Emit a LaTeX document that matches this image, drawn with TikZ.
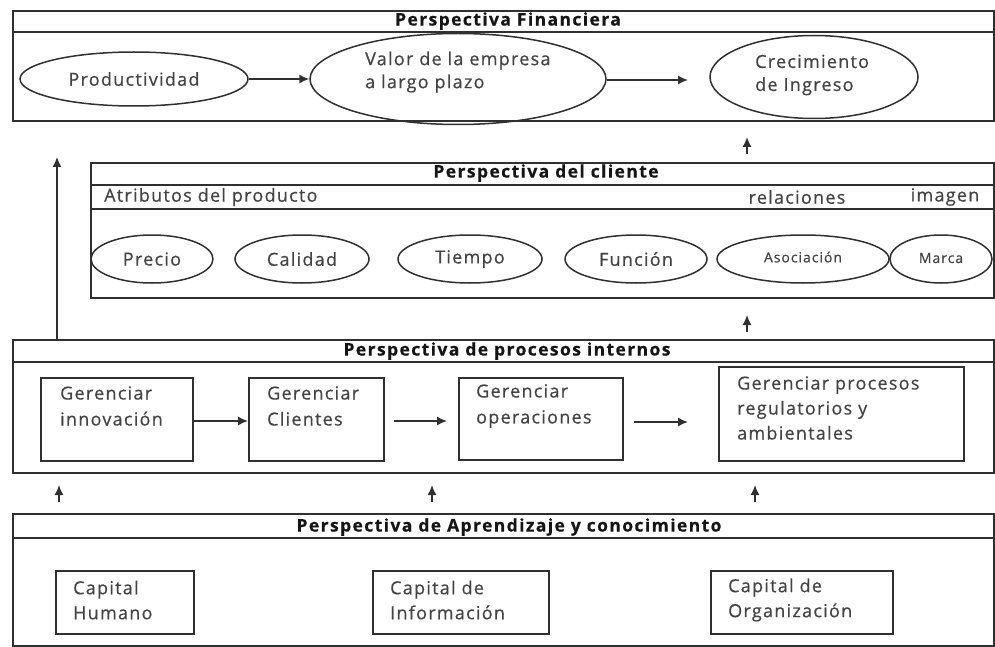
\documentclass[tikz,border=0pt]{standalone}
\usepackage{fontspec}
\setmainfont{Open Sans}
\newfontfamily\bodyfam[LetterSpace=7,FakeBold=0.6]{Open Sans}
\newfontfamily\titlefam[LetterSpace=8,FakeBold=0.5]{Open Sans}
\usetikzlibrary{shapes.geometric,arrows.meta}
\definecolor{linec}{HTML}{303030}
\definecolor{textc}{HTML}{444444}
\definecolor{titlec}{HTML}{151515}
\begin{document}
\begin{tikzpicture}[x=1pt,y=-1pt,
  frame/.style={draw=linec,line width=1.9pt,rectangle,inner sep=0pt,anchor=north west},
  sep/.style={draw=linec,line width=1.9pt},
  ell/.style={draw=linec,line width=1.5pt,ellipse,inner sep=0pt,font=\bodyfam\fontsize{18}{23}\selectfont,text=textc},
  pbox/.style={draw=linec,line width=1.6pt,rectangle,inner sep=0pt,anchor=north west},
  ttl/.style={font=\titlefam\bfseries\fontsize{17.5}{20}\selectfont,text=titlec,inner sep=0pt},
  txt/.style={font=\bodyfam\fontsize{18}{26}\selectfont,text=textc,align=left,inner sep=0pt},
  arr/.style={draw=linec,line width=1.5pt,-{Latex[length=10pt,width=9pt]}}
]
\useasboundingbox (0,0) rectangle (995,647);

% ---------------- Perspectiva Financiera
\node[frame,minimum width=981pt,minimum height=110pt] (fin) at (12,10) {};
\draw[sep] ([yshift=-22pt]fin.north west) -- ([yshift=-22pt]fin.north east);
\node[ttl] (finT) at (508,21) {Perspectiva Financiera};

\node[ell,minimum width=228pt,minimum height=54pt] (prod) at (134,79) {Productividad};
\node[ell,minimum width=296pt,minimum height=91pt] (valor) at (458,79) {};
\node[txt,anchor=west,font=\bodyfam\fontsize{18}{23}\selectfont] (valorT) at (365,72) {Valor de la empresa\\a largo plazo};
\node[ell,minimum width=208pt,minimum height=83pt] (crec) at (814,77) {};
\node[txt,anchor=west,font=\bodyfam\fontsize{18}{23}\selectfont] (crecT) at (755,75) {Crecimiento\\de Ingreso};

\draw[arr] (prod) -- (valor);
\coordinate (crecIn) at (688,80);
\draw[arr] (valor.east |- crecIn) -- (crecIn);

% ---------------- Perspectiva del cliente
\node[frame,minimum width=903pt,minimum height=135pt] (cli) at (90,162) {};
\draw[sep] ([yshift=-23pt]cli.north west) -- ([yshift=-23pt]cli.north east);
\draw[sep] ([yshift=-47pt]cli.north west) -- ([yshift=-47pt]cli.north east);
\node[ttl] (cliT) at (546,173) {Perspectiva del cliente};
\node[txt,anchor=west] (atr) at (104,197) {Atributos del producto};
\node[txt] (rel) at (797,197) {relaciones};
\node[txt] (img) at (945,197) {imagen};

\node[ell,minimum width=122pt,minimum height=48pt] (precio) at (152,259) {Precio};
\node[ell,minimum width=134pt,minimum height=48pt] (calidad) at (302,259) {Calidad};
\node[ell,minimum width=144pt,minimum height=48pt] (tiempo) at (470,259) {\raisebox{-2pt}{Tiempo}};
\node[ell,minimum width=142pt,minimum height=48pt] (funcion) at (636,259) {Función};
\node[ell,minimum width=172pt,minimum height=48pt,font=\bodyfam\fontsize{14}{17}\selectfont] (asoc) at (803,259) {\raisebox{4pt}{Asociación}};
\node[ell,minimum width=102pt,minimum height=48pt,font=\bodyfam\fontsize{14}{17}\selectfont] (marca) at (941,259) {\raisebox{2pt}{Marca}};

% arrows around client box
\coordinate (a1s) at (747,154);
\coordinate (a1e) at (747,137);
\draw[arr] (a1s) -- (a1e);
\coordinate (a2s) at (747,332);
\coordinate (a2e) at (747,315);
\draw[arr] (a2s) -- (a2e);

% ---------------- Perspectiva de procesos internos
\node[frame,minimum width=981pt,minimum height=133pt] (proc) at (12,339) {};
\draw[sep] ([yshift=-23pt]proc.north west) -- ([yshift=-23pt]proc.north east);
\node[ttl] (procT) at (507,351) {Perspectiva de procesos internos};

\node[pbox,minimum width=152pt,minimum height=83pt] (innov) at (40,377) {};
\node[txt,anchor=west] (innovT) at (60,406) {Gerenciar\\innovación};
\node[pbox,minimum width=135pt,minimum height=83pt] (clien) at (248,377) {};
\node[txt,anchor=west] (clienT) at (267,406) {Gerenciar\\Clientes};
\node[pbox,minimum width=164pt,minimum height=82pt] (oper) at (458,377) {};
\node[txt,anchor=west] (operT) at (476,406) {Gerenciar\\operaciones};
\node[pbox,minimum width=245pt,minimum height=94pt] (regul) at (718,366) {};
\node[txt,anchor=west,font=\bodyfam\fontsize{18}{25}\selectfont] (regulT) at (737,408) {Gerenciar procesos\\regulatorios y\\ambientales};

\draw[arr] (innov.east |- 0,421) -- (clien.west |- 0,421);
\draw[arr] ([xshift=9pt]clien.east |- 0,421) -- ([xshift=-11pt]oper.west |- 0,421);
\draw[arr] ([xshift=10pt]oper.east |- 0,422) -- ([xshift=-30pt]regul.west |- 0,422);

% long arrow from procesos to financiera
\coordinate (longS) at (57,339);
\coordinate (longE) at (57,157);
\draw[arr] (longS) -- (longE);

% arrows between aprendizaje and procesos
\coordinate (b1s) at (59,502);
\coordinate (b1e) at (59,485);
\coordinate (b2s) at (432,502);
\coordinate (b2e) at (432,485);
\coordinate (b3s) at (755,502);
\coordinate (b3e) at (755,485);
\draw[arr] (b1s) -- (b1e);
\draw[arr] (b2s) -- (b2e);
\draw[arr] (b3s) -- (b3e);

% ---------------- Perspectiva de Aprendizaje y conocimiento
\node[frame,minimum width=981pt,minimum height=132pt] (apr) at (12,513) {};
\draw[sep] ([yshift=-25pt]apr.north west) -- ([yshift=-25pt]apr.north east);
\node[ttl] (aprT) at (509,527) {Perspectiva de Aprendizaje y conocimiento};

\node[pbox,minimum width=138pt,minimum height=63pt] (hum) at (55,570) {};
\node[txt,anchor=west,font=\bodyfam\fontsize{18}{25}\selectfont] (humT) at (73,600) {Capital\\Humano};
\node[pbox,minimum width=176pt,minimum height=63pt] (info) at (372,570) {};
\node[txt,anchor=west,font=\bodyfam\fontsize{18}{25}\selectfont] (infoT) at (390,600) {Capital de\\Información};
\node[pbox,minimum width=182pt,minimum height=63pt] (org) at (710,570) {};
\node[txt,anchor=west,font=\bodyfam\fontsize{18}{25}\selectfont] (orgT) at (728,600) {Capital de\\Organización};
\end{tikzpicture}
\end{document}
